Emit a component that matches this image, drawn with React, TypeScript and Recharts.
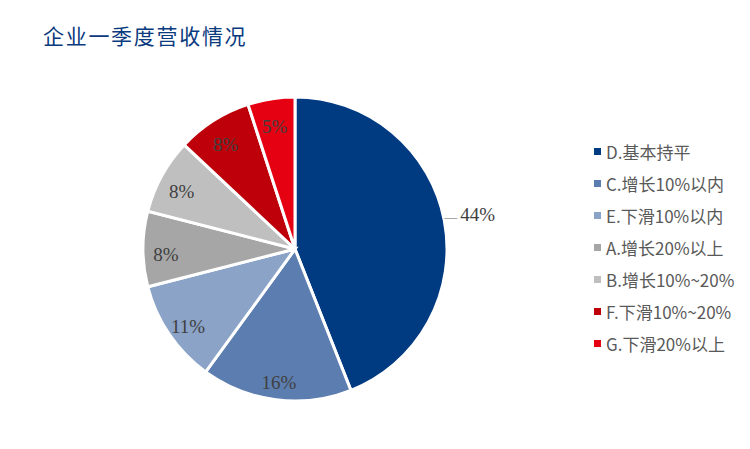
import React from "react";
import { PieChart, Pie, Cell, Legend } from "recharts";

const NAVY = "#0b3a7e";
const LABEL = "#404040";
const LEGEND_TEXT = "#595959";

// ── Données ──────────────────────────────────────────────────────────────────
const categories = [
  "D.基本持平",
  "C.增长10%以内",
  "E.下滑10%以内",
  "A.增长20%以上",
  "B.增长10%~20%",
  "F.下滑10%~20%",
  "G.下滑20%以上",
];
const shares = [44, 16, 11, 8, 8, 8, 5];
const colors = [
  "#003a81",
  "#5c7daf",
  "#8aa3c7",
  "#a6a6a6",
  "#bfbfbf",
  "#bd0009",
  "#e50012",
];

const data = categories.map((name, i) => ({ name, value: shares[i] }));

const RADIAN = Math.PI / 180;

// ── Étiquettes ───────────────────────────────────────────────────────────────
function renderLabel(props: any) {
  const { cx, cy, midAngle, outerRadius, value } = props;
  const cos = Math.cos(-midAngle * RADIAN);
  const sin = Math.sin(-midAngle * RADIAN);
  const style = {
    fontFamily: "'Liberation Serif', 'DejaVu Serif', serif",
    fontSize: 19,
    fill: LABEL,
  };
  if (value > 30) {
    const sx = cx + outerRadius * cos;
    const sy = cy + outerRadius * sin - 2;
    return (
      <g>
        <line x1={sx} y1={sy} x2={sx + 13} y2={sy} stroke="#a6a6a6" strokeWidth={1} />
        <text x={sx + 16} y={sy - 4} dominantBaseline="central" textAnchor="start" {...style}>
          {`${value}%`}
        </text>
      </g>
    );
  }
  const r = outerRadius * 0.85;
  return (
    <text
      x={cx + r * cos}
      y={cy + r * sin + 5}
      dominantBaseline="central"
      textAnchor="middle"
      {...style}
    >
      {`${value}%`}
    </text>
  );
}

// ── Légende ──────────────────────────────────────────────────────────────────
function renderLegend() {
  return (
    <ul style={{ listStyle: "none", margin: 0, padding: 0 }}>
      {categories.map((c, i) => (
        <li
          key={c}
          style={{
            display: "flex",
            alignItems: "center",
            height: 32,
            fontFamily: "'Noto Sans CJK SC', 'Liberation Sans', sans-serif",
            fontSize: 17,
            color: LEGEND_TEXT,
          }}
        >
          <span
            style={{
              display: "inline-block",
              width: 7,
              height: 7,
              background: colors[i],
              marginRight: 5,
            }}
          />
          {c}
        </li>
      ))}
    </ul>
  );
}

export default function App() {
  return (
    <div
      style={{
        position: "absolute",
        left: 0,
        top: 0,
        width: 750,
        height: 449,
        background: "white",
      }}
    >
      <div
        style={{
          position: "absolute",
          left: 43,
          top: 20,
          fontFamily: "'Noto Sans CJK SC', serif",
          fontSize: 21,
          color: NAVY,
          letterSpacing: 1.7,
        }}
      >
        企业一季度营收情况
      </div>
      <PieChart
        width={750}
        height={449}
        margin={{ top: 0, right: 0, bottom: 0, left: 0 }}
      >
        <Pie
          data={data}
          dataKey="value"
          nameKey="name"
          cx={295}
          cy={249}
          outerRadius={152}
          startAngle={90}
          endAngle={-270}
          stroke="#ffffff"
          strokeWidth={3}
          label={renderLabel}
          labelLine={false}
          isAnimationActive={false}
        >
          {data.map((entry, i) => (
            <Cell key={entry.name} fill={colors[i]} />
          ))}
        </Pie>
        <Legend
          layout="vertical"
          content={renderLegend}
          wrapperStyle={{ left: 594, top: 135, width: 160 }}
        />
      </PieChart>
    </div>
  );
}
